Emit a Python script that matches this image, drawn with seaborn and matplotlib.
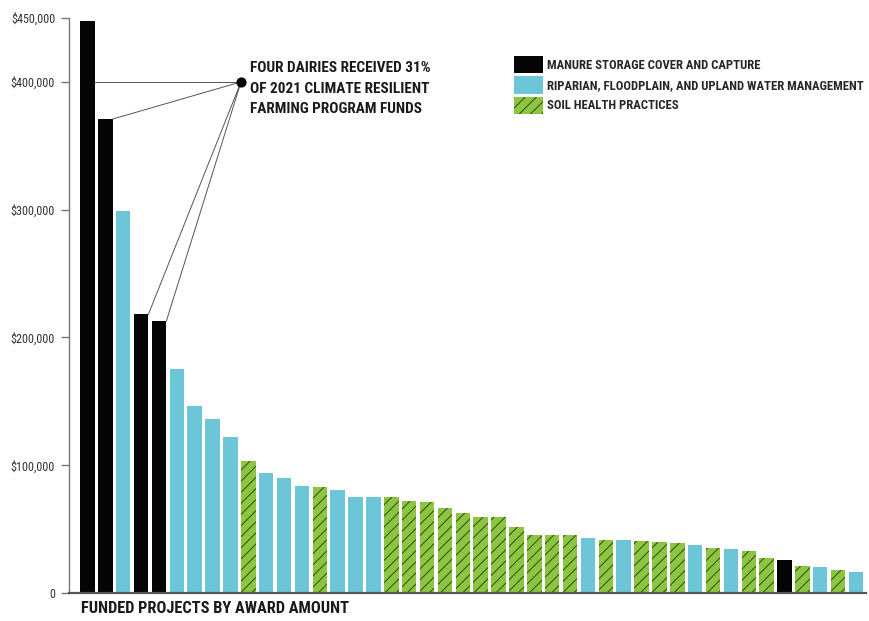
import matplotlib
matplotlib.use("Agg")
import matplotlib.pyplot as plt
from matplotlib import font_manager as fm
from matplotlib.patches import Patch
import seaborn as sns
import pandas as pd

# Award amounts (USD), sorted largest to smallest
amounts = [447700, 370900, 299200, 218000, 212500, 175000, 146000, 135900, 122100, 103000,
           94300, 89800, 83400, 82600, 81000, 75500, 75500, 74800, 72100, 71600,
           66400, 62300, 59600, 59400, 51800, 45500, 45500, 45500, 43000, 41600,
           41400, 40900, 40100, 38800, 37700, 34900, 34600, 33000, 27300, 25800,
           20900, 20100, 18200, 16200]

# M = manure storage, R = riparian/water, S = soil health
kinds = ["M", "M", "R", "M", "M", "R", "R", "R", "R", "S",
         "R", "R", "R", "S", "R", "R", "R", "S", "S", "S",
         "S", "S", "S", "S", "S", "S", "S", "S", "R", "S",
         "R", "S", "S", "S", "R", "S", "R", "S", "S", "M",
         "S", "R", "S", "R"]

kind_names = {
    "M": "MANURE STORAGE COVER AND CAPTURE",
    "R": "RIPARIAN, FLOODPLAIN, AND UPLAND WATER MANAGEMENT",
    "S": "SOIL HEALTH PRACTICES",
}
kind_colors = {"M": "#050505", "R": "#6cc6d7", "S": "#8cc540"}
hatch_color = "#2f4a16"

dairy_idx = [0, 1, 3, 4]
note = "FOUR DAIRIES RECEIVED 31%\nOF 2021 CLIMATE RESILIENT\nFARMING PROGRAM FUNDS"

yticks = [0, 100000, 200000, 300000, 400000, 450000]
ytick_labels = ["0", "$100,000", "$200,000", "$300,000", "$400,000", "$450,000"]

df = pd.DataFrame({"project": range(len(amounts)), "amount": amounts, "kind": kinds})

sns.set_style("white")

# the original uses a condensed sans; pick the narrowest installed one
narrow = {}
for f in fm.fontManager.ttflist:
    if f.stretch in ("condensed", "semi-condensed", "extra-condensed", "ultra-condensed") \
            or "Narrow" in f.name or "Condensed" in f.name:
        narrow.setdefault(f.name, f.stretch)
family, stretch = "Roboto", "normal"
for name in ["Liberation Sans Narrow", "Roboto Condensed", "Open Sans Condensed",
             "Noto Sans", "DejaVu Sans", "Open Sans", "Roboto"]:
    if name in narrow:
        family, stretch = name, narrow[name]
        break
else:
    if narrow:
        family, stretch = sorted(narrow.items())[0]

plt.rcParams["font.family"] = [family, "DejaVu Sans"]
plt.rcParams["font.stretch"] = stretch
plt.rcParams["hatch.linewidth"] = 0.7

fig = plt.figure(figsize=(8.69, 6.21), dpi=100)
ax = fig.add_axes([69 / 869, 28 / 621, 797 / 869, 575 / 621])

sns.barplot(data=df, x="project", y="amount", hue="kind", palette=kind_colors,
            dodge=False, width=0.81, legend=False, saturation=1, ax=ax)

# texture the soil health bars
for p in ax.patches:
    i = int(round(p.get_x() + p.get_width() / 2))
    p.set_linewidth(0)
    if kinds[i] == "S":
        p.set_hatch("///")
        p.set_edgecolor(hatch_color)
        p.set_linewidth(0)

ax.set_xlim(-1.035, len(amounts) - 0.44)
ax.set_ylim(0, 450000)
ax.set_yticks(yticks)
ax.set_yticklabels(ytick_labels)
ax.set_xticks([])
ax.tick_params(axis="y", length=6, width=1, color="#777777", labelsize=8.7,
               labelcolor="#333333", pad=4, left=True)
for s in ["top", "right"]:
    ax.spines[s].set_visible(False)
ax.spines["left"].set_color("#777777")
ax.spines["left"].set_linewidth(1)
ax.spines["bottom"].set_color("#555555")
ax.spines["bottom"].set_linewidth(1.6)

ax.set_ylabel("")
ax.set_xlabel("FUNDED PROJECTS BY AWARD AMOUNT", loc="left", fontsize=11.8,
              fontweight="bold", color="#1a1a1a")
ax.xaxis.set_label_coords(0.015, -0.014)

# callout
dot_x, dot_y = 8.59, 400000
half = 0.405
for i in dairy_idx:
    ax.plot([i + half, dot_x], [min(amounts[i], dot_y), dot_y],
            color="#555555", lw=0.7, zorder=3)
ax.scatter([dot_x], [dot_y], s=40, color="black", zorder=4)
ax.text(250 / 869, 1 - 61 / 621, note, transform=fig.transFigure, ha="left", va="top",
        fontsize=11, fontweight="bold", color="#1a1a1a", linespacing=1.6)

handles = []
for k in ["M", "R", "S"]:
    if k == "S":
        handles.append(Patch(facecolor=kind_colors[k], edgecolor=hatch_color,
                             hatch="///", linewidth=0, label=kind_names[k]))
    else:
        handles.append(Patch(facecolor=kind_colors[k], linewidth=0, label=kind_names[k]))
fig.legend(handles=handles, loc="upper left", bbox_to_anchor=(514 / 869, 1 - 56 / 621),
           frameon=False, handlelength=2.3, handleheight=1.75,
           handletextpad=0.3, labelspacing=0.22, borderpad=0, borderaxespad=0,
           prop={"weight": "bold", "size": 9.1, "stretch": stretch})

fig.savefig("out.png", dpi=100)
